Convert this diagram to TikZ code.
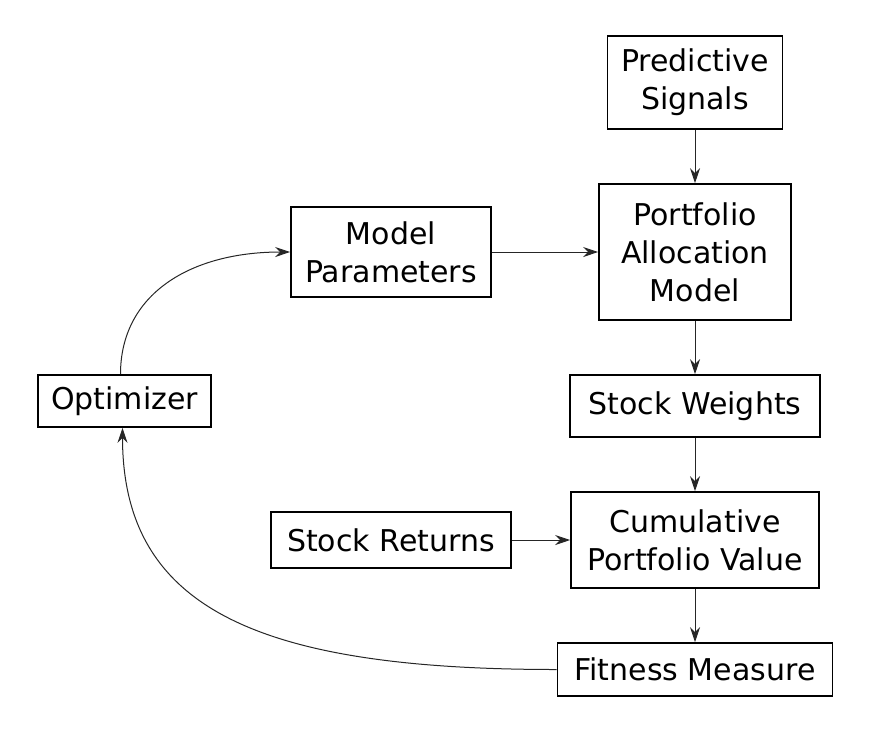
\documentclass[tikz,border=0pt]{standalone}
\usepackage{fontspec}
\setmainfont{DejaVu Sans}
\usetikzlibrary{arrows.meta}
\begin{document}
\begin{tikzpicture}[x=1pt,y=-1pt,
  box/.style={draw, line width=1.6pt, align=center, inner sep=0pt,
    font=\fontsize{30}{38}\selectfont},
  conn/.style={line width=1pt, draw=black!85, -{Stealth[length=15pt,width=10pt,inset=5pt]}}]
\useasboundingbox (0,0) rectangle (869,734);
\node[box, minimum width=175, minimum height=93] (ps) at (695,82.5) {Predictive\\Signals};
\node[box, minimum width=192, minimum height=136] (pam) at (695,252) {Portfolio\\Allocation\\Model};
\node[box, minimum width=200, minimum height=90] (mp) at (391,252) {Model\\Parameters};
\node[box, minimum width=173, minimum height=52] (opt) at (124.5,401) {Optimizer};
\node[box, minimum width=250, minimum height=62] (sw) at (695,406) {Stock Weights};
\node[box, minimum width=240, minimum height=56] (sr) at (391,540) {Stock Returns};
\node[box, minimum width=248, minimum height=96] (cpv) at (695,540) {Cumulative\\Portfolio Value};
\node[box, minimum width=275, minimum height=53] (fm) at (695,669.5) {Fitness Measure};
\draw[conn] (ps) -- (pam);
\draw[conn] (mp) -- (pam);
\draw[conn] (pam) -- (sw);
\draw[conn] (sw) -- (cpv);
\draw[conn] (sr) -- (cpv);
\draw[conn] (cpv) -- (fm);
\draw[conn] (fm.west) .. controls ++(-300,0) and ++(0,180) .. ([xshift=-2pt]opt.south);
\draw[conn] ([xshift=-4pt]opt.north) .. controls ++(0,-80) and ++(-100,0) .. (mp.west);
\end{tikzpicture}
\end{document}
